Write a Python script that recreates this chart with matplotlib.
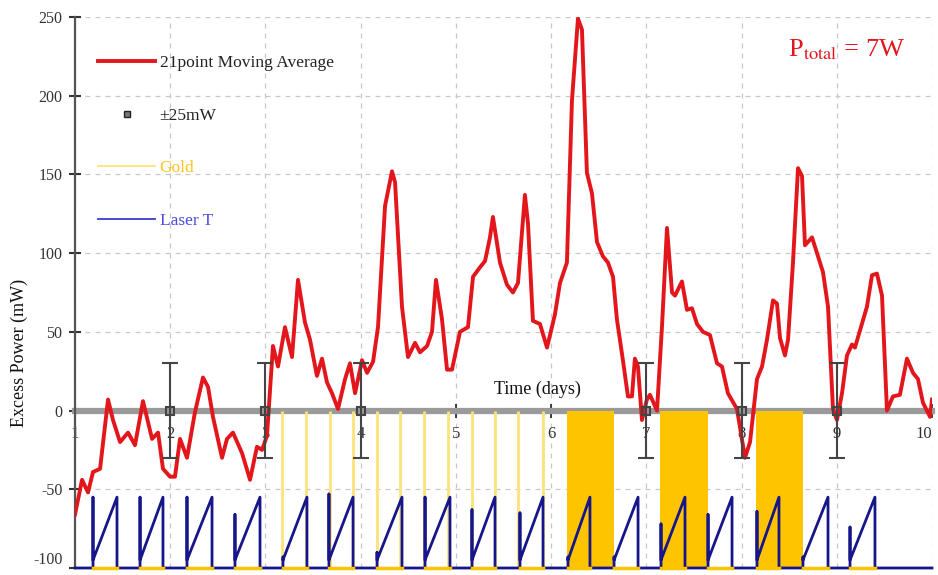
import numpy as np
import matplotlib as mpl
mpl.rcParams['font.family'] = 'serif'
mpl.rcParams['font.serif'] = ['Liberation Serif', 'DejaVu Serif']
mpl.rcParams['mathtext.fontset'] = 'stix'
mpl.rcParams['axes.unicode_minus'] = False
import matplotlib.pyplot as plt
from matplotlib.lines import Line2D

#===========================================================================
# 21 point moving average of excess power (days, mW)
ma_days = [1.000, 1.074, 1.137, 1.189, 1.263, 1.305, 1.347, 1.399, 1.473, 1.557,
           1.630, 1.714, 1.809, 1.872, 1.924, 1.998, 2.050, 2.103, 2.176, 2.260,
           2.344, 2.397, 2.449, 2.544, 2.596, 2.659, 2.754, 2.838, 2.911, 2.964,
           3.016, 3.079, 3.132, 3.205, 3.279, 3.342, 3.415, 3.468, 3.541, 3.594,
           3.646, 3.699, 3.762, 3.836, 3.888, 3.941, 4.014, 4.067, 4.130, 4.182,
           4.256, 4.329, 4.361, 4.434, 4.497, 4.571, 4.623, 4.697, 4.749, 4.791,
           4.854, 4.907, 4.959, 5.012, 5.043, 5.127, 5.180, 5.253, 5.306, 5.358,
           5.389, 5.463, 5.536, 5.599, 5.652, 5.725, 5.757, 5.809, 5.883, 5.957,
           6.040, 6.093, 6.166, 6.219, 6.282, 6.324, 6.376, 6.429, 6.482, 6.544,
           6.597, 6.650, 6.691, 6.754, 6.807, 6.849, 6.880, 6.912, 6.954, 7.006,
           7.038, 7.112, 7.164, 7.217, 7.270, 7.301, 7.374, 7.427, 7.479, 7.532,
           7.595, 7.668, 7.742, 7.794, 7.857, 7.952, 8.036, 8.089, 8.162, 8.215,
           8.267, 8.330, 8.372, 8.404, 8.456, 8.488, 8.540, 8.593, 8.635, 8.666,
           8.740, 8.803, 8.855, 8.908, 8.960, 9.002, 9.055, 9.107, 9.160, 9.191,
           9.244, 9.317, 9.370, 9.422, 9.475, 9.527, 9.590, 9.663, 9.737, 9.800,
           9.853, 9.905, 9.979, 10.000]
ma_power = [-66, -44, -52, -39, -37, -15, 7, -6, -20, -14,
            -22, 6, -18, -14, -37, -42, -42, -18, -30, -1,
            21, 15, -4, -30, -18, -14, -27, -44, -23, -25,
            -16, 41, 28, 53, 34, 83, 56, 45, 22, 33,
            18, 11, 1, 20, 30, 11, 32, 24, 31, 53,
            130, 152, 145, 66, 34, 43, 37, 41, 50, 83,
            58, 26, 26, 41, 50, 53, 85, 91, 95, 110,
            123, 94, 80, 75, 81, 137, 119, 57, 55, 40,
            61, 81, 94, 197, 249, 242, 151, 138, 107, 98,
            94, 85, 58, 32, 9, 9, 33, 28, -6, 7,
            10, 0, 53, 116, 75, 73, 82, 64, 65, 55,
            50, 48, 30, 28, 11, 1, -30, -20, 20, 28,
            45, 70, 68, 46, 35, 45, 94, 154, 149, 105,
            110, 98, 88, 66, 1, -6, 11, 35, 42, 40,
            51, 66, 86, 87, 73, 0, 9, 10, 33, 24,
            20, 5, -4, 7]

# calibration points with +/- error
err_days = [2, 3, 4, 7, 8, 9]
err_power = [0, 0, 0, 0, 0, 0]
err_size = 30

# Gold signal : short pulses and long "on" periods
gold_pulse_days = [3.17, 3.43, 3.68, 3.92, 4.17, 4.41, 4.66, 4.92, 5.17, 5.41, 5.65, 5.92]
gold_block_start = [6.17, 7.145, 8.15]
gold_block_end = [6.66, 7.65, 8.65]

# Laser T sawtooth cycles
laser_start = [1.189, 1.683, 2.176, 2.680, 3.184, 3.667, 4.172, 4.676, 5.169,
               5.673, 6.177, 6.661, 7.154, 7.648, 8.162, 8.645, 9.139]
laser_end = [1.441, 1.924, 2.439, 2.943, 3.436, 3.920, 4.434, 4.938, 5.411,
             5.915, 6.408, 6.913, 7.406, 7.900, 8.393, 8.908, 9.401]
laser_jump = [-55, -55, -55, -66, -93, -53, -90, -55, -63,
              -65, -93, -93, -72, -66, -64, -93, -74]
laser_low = -100
laser_ramp0 = -95
laser_top = -55

xticks = [1, 2, 3, 4, 5, 6, 7, 8, 9, 10]
yticks = [-100, -50, 0, 50, 100, 150, 200, 250]

red = '#E3161C'
gold_light = '#FFE27A'
gold = '#FFC400'
navy = '#16168A'
#===========================================================================
fig = plt.figure(figsize=(9.38, 5.75), dpi=100, facecolor='w')
ax = fig.add_axes([75/938., 1-568/575., (932-75)/938., (568-17)/575.])

ax.set_xlim(1, 10)
ax.set_ylim(-100, 250)
ax.set_xticks(xticks)
ax.set_yticks(yticks)
ax.grid(True, ls=(0, (4, 4)), color='#c8c8c8', lw=0.9, zorder=0)
ax.set_axisbelow(True)

ax.spines['top'].set_visible(False)
ax.spines['right'].set_visible(False)
ax.spines['left'].set_color('#555555')
ax.spines['left'].set_linewidth(1.6)
ax.spines['bottom'].set_position(('data', 0))
ax.spines['bottom'].set_color('#9a9a9a')
ax.spines['bottom'].set_linewidth(4.5)
ax.spines['bottom'].set_zorder(1.5)

ax.tick_params(axis='x', direction='inout', length=10, width=1.2, color='#222222',
               pad=6, labelsize=12, labelcolor='#333333')
ax.tick_params(axis='y', direction='inout', length=8, width=1.5, color='#333333',
               pad=5, labelsize=11.5, labelcolor='#333333')
# keep edge labels inside the picture
ax.get_yticklabels()[0].set_va('bottom')
ax.get_xticklabels()[-1].set_ha('right')

# gold pulses and blocks
ax.vlines(gold_pulse_days, laser_low, 0, color=gold_light, lw=2, zorder=2)
for s, e in zip(gold_block_start, gold_block_end):
    ax.fill_between([s, e], laser_low, 0, color=gold, lw=0, zorder=2)

# laser T sawtooth
lx = [1.0]
ly = [laser_low]
for s, e, h in zip(laser_start, laser_end, laser_jump):
    lx += [s, s, s, e, e]
    ly += [laser_low, h, laser_ramp0, laser_top, laser_low]
lx.append(10.0)
ly.append(laser_low)
ax.plot(lx, ly, color=navy, lw=2, zorder=3, clip_on=False)
for s, e in zip(laser_start, laser_end):
    ax.plot([s, e], [laser_low, laser_low], color=gold, lw=2.5, zorder=3.5, clip_on=False)

# moving average
ax.plot(ma_days, ma_power, color=red, lw=2.8, zorder=4)

# error bars
ax.errorbar(err_days, err_power, yerr=err_size, fmt='s', ms=6, mfc='none', mec='#444444',
            mew=1.5, ecolor='#444444', elinewidth=1.5, capsize=6, capthick=1.5, zorder=5)

ax.text(5.86, 8, 'Time (days)', fontsize=13, ha='center', va='bottom', color='#111111')
ax.set_ylabel('Excess Power (mW)', fontsize=13, color='#111111')
ax.yaxis.set_label_coords(-0.055, 0.39)

ax.text(0.9, 0.94, r'P$_{\mathrm{total}}$ = 7W', transform=ax.transAxes, fontsize=19,
        color=red, ha='center', va='center')

handles = [Line2D([], [], color=red, lw=2.8),
           Line2D([], [], ls='none', marker='s', ms=5, mfc='#777777', mec='#222222'),
           Line2D([], [], color=gold_light, lw=1.3),
           Line2D([], [], color='#3c3cd0', lw=1.3)]
labels = ['21point Moving Average', u'\u00b125mW', 'Gold', 'Laser T']
leg = fig.legend(handles, labels, loc='upper left', bbox_to_anchor=(98/938., 1-55/575.),
                 frameon=False, fontsize=12.5, borderpad=0, borderaxespad=0,
                 handlelength=3.3, handletextpad=0.25, labelspacing=2.1,
                 labelcolor=['#222222', '#222222', '#FFC21A', '#4a4ae0'])

plt.savefig('out.png', dpi=100)
